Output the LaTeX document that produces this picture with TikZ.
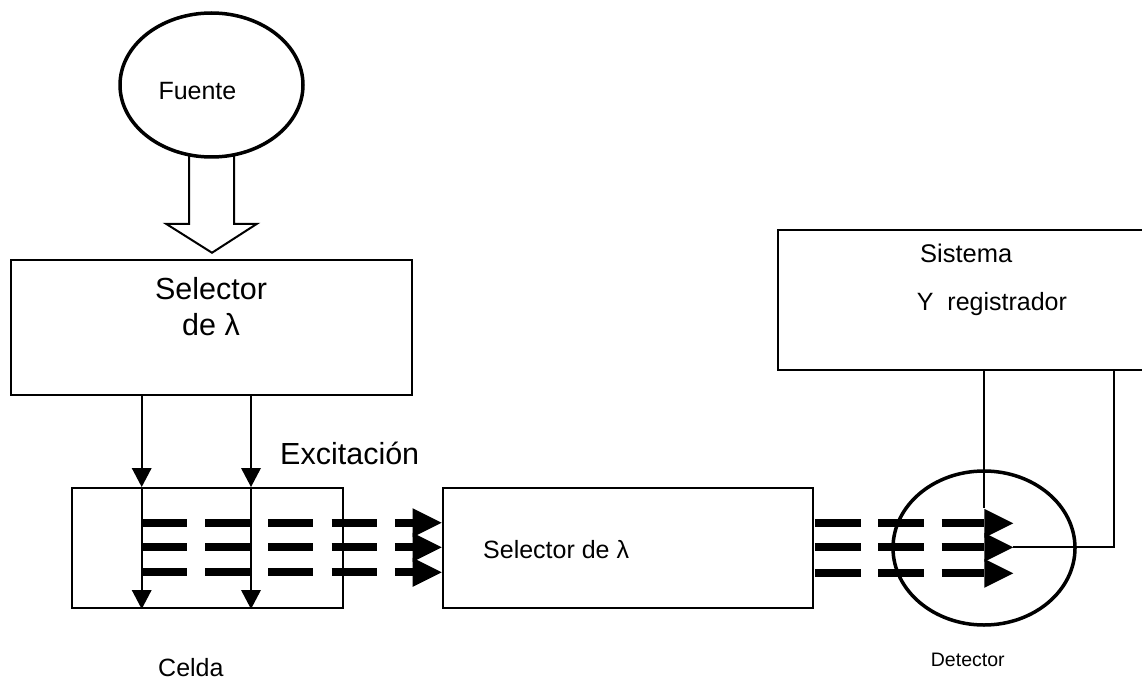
\documentclass[tikz,border=0pt]{standalone}
\usepackage{fontspec}
\setmainfont{Liberation Sans}
\usetikzlibrary{arrows.meta,shapes.geometric,calc}
\begin{document}
\begin{tikzpicture}[x=1pt,y=-1pt,
  box/.style={draw,line width=2pt,rectangle,inner sep=0pt},
  oval/.style={draw,line width=3.5pt,ellipse,inner sep=0pt},
  thinline/.style={line width=2pt},
  vtip/.style={-{Triangle[width=20pt,length=19pt,line width=0pt]}},
  beam/.style={line width=8pt,dash pattern=on 45pt off 18.3pt,-{Triangle[width=29pt,length=29pt,line width=0pt]}},
  lbl/.style={inner sep=0pt,anchor=base west}]
\useasboundingbox (0,0) rectangle (1142,679);

% Source
\node[oval,minimum width=183pt,minimum height=144pt] (fuente) at (211.5,85) {};
\node[lbl,font=\fontsize{25}{30}\selectfont] (tfuente) at (158.3,100) {Fuente};

% hollow arrow
\draw[thinline] ($(fuente.south)+(-22.5,-2.5)$) -- ++(0,67.5) -- ++(-23,0) -- ++(46,29)
  -- ++(45,-29) -- ++(-23,0) -- ++(0,-67.5);

% Selector box
\node[box,minimum width=401pt,minimum height=135pt] (sel) at (211.5,327.5) {};
\node[inner sep=0pt,anchor=base,font=\fontsize{30.5}{36}\selectfont] (tsel1) at (211,299) {Selector};
\node[inner sep=0pt,anchor=base,font=\fontsize{30.5}{36}\selectfont] (tsel2) at (211,335) {de λ};

% Cell
\node[box,minimum width=271pt,minimum height=120pt] (celda) at (207.2,548) {};
\node[lbl,font=\fontsize{25}{30}\selectfont] (tcelda) at (158,676) {Celda};

% Middle selector
\node[box,minimum width=370.3pt,minimum height=120pt] (mid) at (627.8,548.3) {};
\node[lbl,font=\fontsize{25}{30}\selectfont] (tmid) at (483,558.3) {Selector de λ};

% Sistema box (open to the right edge)
\node[inner sep=0pt,minimum width=364pt,minimum height=140pt] (sys) at (960,300) {};
\draw[thinline] (sys.north east) -- (sys.north west) -- (sys.south west) -- (sys.south east);
\node[lbl,font=\fontsize{25.5}{30}\selectfont] (tsys1) at (920,262.7) {Sistema};
\node[lbl,font=\fontsize{25}{30}\selectfont] (tsys2) at (916.7,310) {Y\ \ registrador};

% Detector
\node[oval,minimum width=182pt,minimum height=154pt] (det) at (984,548) {};
\node[lbl,font=\fontsize{19.5}{24}\selectfont] (tdet) at (930.7,666.7) {Detector};

% Excitation arrows
\coordinate (a1) at (141.7,0);
\coordinate (a2) at (251,0);
\draw[thinline,vtip] (sel.south -| a1) -- (celda.north -| a1);
\draw[thinline,vtip] (celda.north -| a1) -- (celda.south -| a1);
\draw[thinline,vtip] (sel.south -| a2) -- (celda.north -| a2);
\draw[thinline,vtip] (celda.north -| a2) -- (celda.south -| a2);
\node[lbl,font=\fontsize{30.5}{36}\selectfont] (texc) at (280,464) {Excitación};

% Emission beams: cell -> selector
\foreach \y in {522.7,547.3,572.3}
  \draw[beam] ($(a1)+(0,\y)$) -- ($(mid.west |- a1)+(0,\y)$);

% Emission beams: selector -> detector
\coordinate (dt) at (1013.3,0);
\foreach \y in {523.3,547.3,573.3}
  \draw[beam,dash pattern=on 46pt off 17.3pt] ($(mid.east |- a1)+(1,\y)$) -- ($(dt)+(0,\y)$);

% Wires detector -> recorder
\coordinate (w1) at (984,508);
\coordinate (w2) at (1114.3,0);
\coordinate (w3) at (1013.3,547.3);
\draw[thinline] (sys.south -| w1) -- (w1);
\draw[thinline] (sys.south -| w2) |- (w3);
\end{tikzpicture}
\end{document}
